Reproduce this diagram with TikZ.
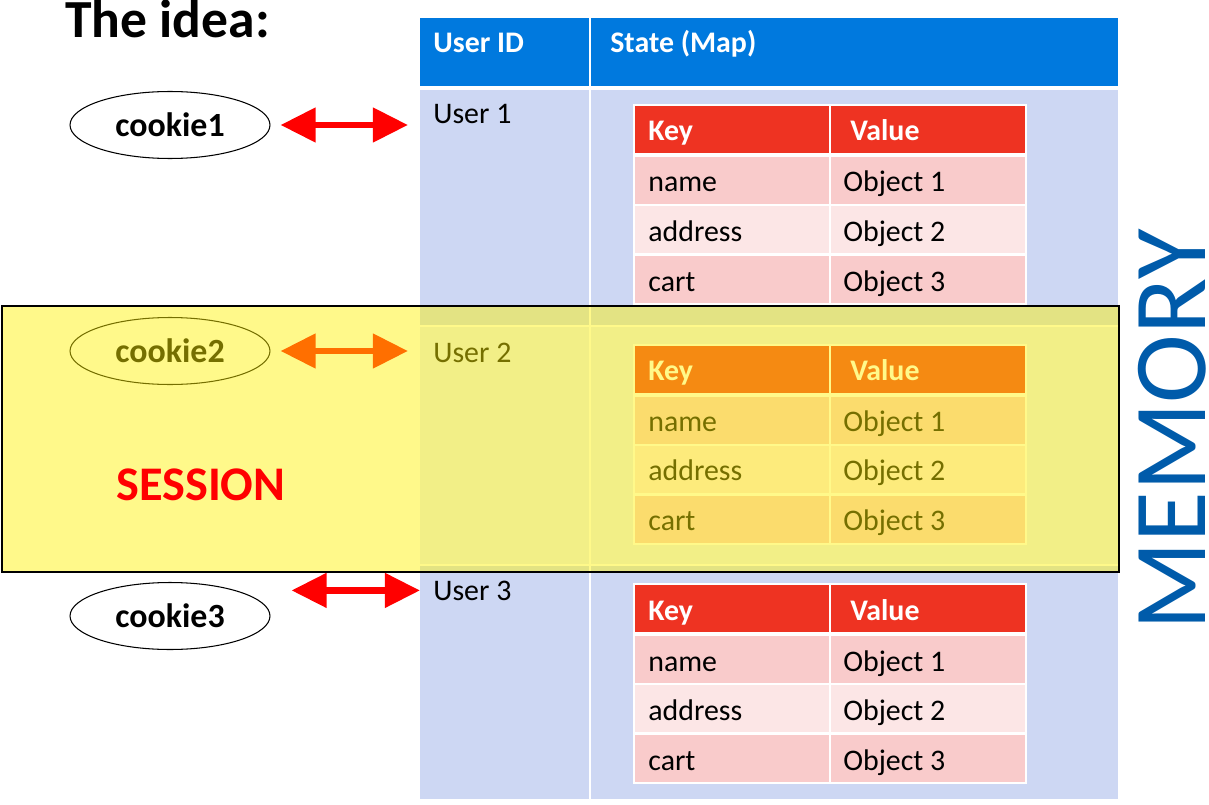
\documentclass[tikz,border=0pt]{standalone}
\usepackage{fontspec}
\setmainfont{Carlito}
\usetikzlibrary{arrows.meta, shapes.geometric, positioning, calc}

\definecolor{hdrBlue}{HTML}{0079DE}
\definecolor{rowBlue}{HTML}{CDD7F3}
\definecolor{rowBlueLt}{HTML}{E8EDFB}
\definecolor{keyRed}{HTML}{EE3322}
\definecolor{pinkDk}{HTML}{F9CBCB}
\definecolor{pinkLt}{HTML}{FCE6E6}
\definecolor{memBlue}{HTML}{005BAA}

\begin{document}
\begin{tikzpicture}[
	x=0.02cm, y=-0.02cm,
	txt/.style={anchor=base west, inner sep=0pt, font=\fontsize{17}{20}\selectfont},
	hdr/.style={txt, text=white, font=\fontsize{17}{20}\selectfont\bfseries},
	cookie/.style={ellipse, draw, line width=0.6pt, minimum width=4cm, minimum height=1.34cm, inner sep=0pt, font=\fontsize{19.3}{22}\selectfont\bfseries},
	link/.style={red, line width=3.8pt, {Triangle[length=20pt,width=19pt]}-{Triangle[length=20pt,width=19pt]}},
	sep/.style={white, line width=1.2pt}
	]
	
	\useasboundingbox (0,0) rectangle (1209,804);
	
	\node[anchor=base west, inner sep=0pt, font=\fontsize{30.5}{36}\selectfont\bfseries] (title) at (65,38) {The idea:};
	
	% Header
	\fill[hdrBlue] (420,18) rectangle (1118,86);
	\node[hdr] (hdrId) at (433,53) {User ID};
	\node[hdr] (hdrState) at (610,53) {State (Map)};
	
	% Rows
	\foreach \i/\ytop/\ybot/\rowcol in {1/90/325/rowBlue, 2/327/564/rowBlueLt, 3/566/799/rowBlue}
		\fill[\rowcol] (420,\ytop) rectangle (1118,\ybot);
	\draw[sep] (590,18) -- (590,799);
	
	\foreach \i in {1,2,3} {
		\pgfmathsetmacro{\yoff}{239.5*(\i-1)}
		\pgfmathsetmacro{\uoff}{238*(\i-1)}
		\node[txt] (user\i) at (433,124+\uoff) {User \i};
		% Map
		\fill[white] (633,104+\yoff) rectangle (1027,305+\yoff);
		\fill[keyRed] (635,106+\yoff) rectangle (1025,153+\yoff);
		\node[hdr] (key\i) at (648,141+\yoff) {Key};
		\node[hdr] (val\i) at (850,141+\yoff) {Value};
		\foreach \kname/\vname/\col/\ry [count=\r] in {name/Object 1/pinkDk/51, address/Object 2/pinkLt/100, cart/Object 3/pinkDk/150} {
			\fill[\col] (635,\ry+106+\yoff) rectangle (1025,\ry+153+\yoff);
			\node[txt] (k\i-\r) at (648,\ry+141+\yoff) {\kname};
			\node[txt] (v\i-\r) at (843,\ry+141+\yoff) {\vname};
		}
		\draw[sep] (830,104+\yoff) -- (830,305+\yoff);
	}
	
	% Cookies
	\node[cookie] (cookie1) at (170,125) {cookie1};
	\node[cookie] (cookie2) at (170,351) {cookie2};
	\node[cookie] (cookie3) at (170,616) {cookie3};
	
	\draw[link, shorten <=0.2cm, shorten >=0.5cm] (cookie1.east) -- (cookie1.east -| user1.west);
	\draw[link, shorten <=0.2cm, shorten >=0.5cm] (cookie2.east) -- (cookie2.east -| user2.west);
	\draw[link, shorten <=0.42cm, shorten >=0.26cm] (user3.west -| cookie3.east) -- (user3.west);
	
	% Session
	\filldraw[fill=yellow, fill opacity=0.46, draw=black, line width=1pt] (2,306) rectangle (1119,572);
	\node[anchor=base west, inner sep=0pt, text=red, font=\fontsize{27.5}{32}\selectfont\bfseries] (session) at (116,500) {SESSION};
	
	\node[rotate=90, inner sep=0pt, text=memBlue, font=\fontsize{59}{62}\selectfont] (memory) at (1172,430) {MEMORY};
\end{tikzpicture}
\end{document}
